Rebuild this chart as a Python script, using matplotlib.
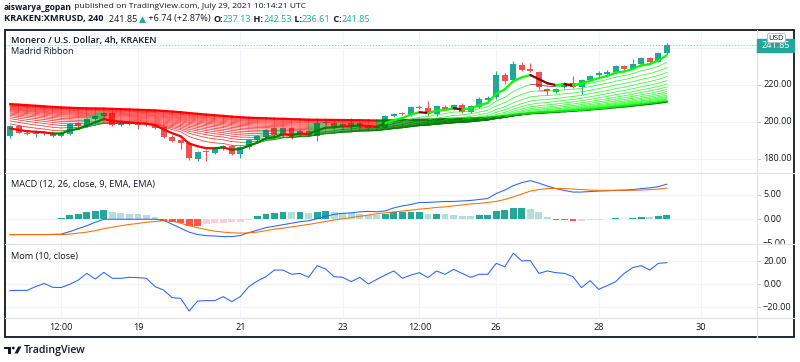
import numpy as np
import pandas as pd
import matplotlib
matplotlib.use('Agg')
import matplotlib.pyplot as plt
import matplotlib.dates as mdates
from matplotlib.collections import LineCollection
from matplotlib.patches import Rectangle, FancyBboxPatch, Circle, Polygon
from matplotlib.transforms import blended_transform_factory

plt.rcParams['font.family'] = ['Open Sans', 'DejaVu Sans']

# ---- data (KRAKEN:XMRUSD, 4h bars) ----
bar_times = pd.date_range('2021-07-16 12:00', periods=78, freq='4h')

opens = [192.4, 197.8, 194.2, 193.6, 194.0, 193.8, 192.6, 193.5, 199.4, 197.8,
         201.5, 203.0, 204.7, 198.6, 199.4, 199.0, 198.6, 198.3, 197.2, 192.0,
         190.2, 188.6, 180.0, 184.0, 183.5, 185.8, 187.0, 182.7, 186.3, 190.3,
         192.0, 196.6, 193.0, 196.6, 193.0, 195.3, 192.4, 199.3, 199.6, 197.5,
         199.5, 197.5, 198.4, 196.6, 196.6, 203.4, 204.6, 204.0, 208.0, 207.4,
         204.1, 208.3, 207.2, 209.2, 205.6, 208.3, 212.0, 213.3, 225.6, 222.8,
         230.7, 228.5, 226.8, 217.8, 216.2, 218.7, 221.3, 219.0, 222.8, 225.4,
         225.9, 226.8, 230.3, 228.5, 231.4, 234.5, 232.7, 237.13]
highs = [198.5, 198.5, 195.5, 195.8, 195.0, 194.5, 194.5, 199.5, 200.0, 202.0,
         204.0, 205.5, 205.5, 200.3, 200.0, 199.8, 199.2, 198.8, 197.8, 192.8,
         190.8, 189.8, 184.5, 184.8, 186.2, 187.5, 187.6, 186.8, 190.8, 192.8,
         196.2, 197.2, 197.0, 197.3, 195.8, 195.8, 200.5, 201.5, 200.3, 199.5,
         202.0, 200.0, 199.0, 197.5, 204.0, 204.8, 205.3, 208.5, 209.0, 211.6,
         209.0, 209.0, 209.8, 210.0, 209.2, 213.5, 213.8, 227.5, 226.5, 233.0,
         232.6, 232.0, 227.8, 218.5, 218.6, 221.8, 225.0, 223.2, 225.5, 227.5,
         228.0, 230.8, 231.0, 234.0, 235.0, 235.2, 237.6, 242.53]
lows = [191.5, 193.8, 193.0, 192.0, 192.8, 192.0, 191.8, 193.0, 197.0, 197.2,
        201.0, 202.5, 198.0, 197.8, 198.2, 196.0, 197.6, 196.0, 191.2, 189.0,
        185.5, 179.5, 179.0, 178.8, 182.8, 185.0, 182.0, 180.5, 185.6, 189.8,
        191.6, 192.5, 192.2, 191.0, 192.5, 192.2, 189.7, 198.5, 197.0, 197.0,
        197.0, 196.8, 196.0, 195.8, 196.0, 202.8, 203.8, 203.5, 207.0, 203.5,
        203.2, 206.8, 206.6, 205.0, 205.0, 207.8, 211.5, 212.5, 220.5, 222.0,
        227.5, 227.0, 218.0, 214.5, 215.5, 218.2, 218.2, 215.0, 222.2, 224.0,
        224.5, 226.2, 227.0, 228.0, 230.8, 232.0, 232.2, 236.61]
closes = [197.8, 194.2, 193.6, 194.0, 193.8, 192.6, 193.8, 198.9, 197.8, 201.5,
          203.5, 205.0, 198.6, 199.4, 199.0, 198.6, 198.3, 196.6, 191.7, 189.8,
          188.9, 180.4, 184.0, 183.7, 185.8, 187.0, 182.7, 186.3, 190.3, 192.4,
          195.7, 193.0, 196.6, 192.0, 195.3, 193.0, 199.3, 199.8, 197.5, 198.9,
          197.5, 199.5, 196.6, 197.0, 203.2, 204.3, 204.4, 208.0, 207.6, 204.1,
          208.6, 207.2, 209.2, 205.6, 208.6, 212.3, 212.9, 225.6, 222.0, 231.1,
          228.3, 227.8, 218.7, 216.5, 218.0, 221.3, 219.0, 222.8, 225.0, 226.6,
          227.2, 230.3, 228.5, 231.4, 234.5, 232.7, 237.13, 241.85]

# Madrid Ribbon: EMA lengths and the value of each EMA at the first visible bar
ribbon_lengths = [5, 10, 15, 20, 25, 30, 35, 40, 45, 50,
                  55, 60, 65, 70, 75, 80, 85, 90, 95, 100]
ribbon_start = [196.5, 199.0, 200.6, 201.8, 202.8, 203.6, 204.3, 204.9, 205.5, 206.0,
                206.5, 206.9, 207.3, 207.7, 208.1, 208.5, 208.8, 209.1, 209.4, 209.7]

macd_line = [-3.1, -3.1, -3.1, -3.1, -3.1, -3.05, -3.0, -2.5, -1.9, -1.3,
             -0.6, 0.0, 0.0, 0.0, 0.0, 0.0, 0.0, 0.0, -0.2, -1.0,
             -1.8, -2.6, -3.1, -3.3, -3.4, -3.5, -3.5, -3.3, -2.7, -2.2,
             -1.7, -1.4, -1.1, -0.8, -0.5, -0.3, 0.1, 0.6, 1.0, 1.2,
             1.3, 1.5, 1.6, 1.5, 1.7, 2.3, 2.7, 3.0, 3.4, 3.4,
             3.5, 3.6, 3.6, 3.7, 3.8, 4.0, 4.2, 5.2, 5.9, 6.8,
             7.4, 7.8, 7.3, 6.7, 6.2, 5.8, 5.5, 5.5, 5.6, 5.7,
             5.75, 5.85, 5.9, 6.0, 6.2, 6.35, 6.6, 7.1]
signal_line = [-3.1, -3.1, -3.1, -3.1, -3.1, -3.1, -3.1, -3.0, -2.8, -2.6,
               -2.3, -1.9, -1.6, -1.3, -1.05, -0.85, -0.6, -0.45, -0.3, -0.4,
               -0.8, -1.3, -1.7, -2.1, -2.4, -2.6, -2.75, -2.8, -2.75, -2.6,
               -2.3, -2.0, -1.8, -1.55, -1.3, -1.05, -0.75, -0.45, -0.15, 0.1,
               0.35, 0.6, 0.85, 1.1, 1.3, 1.5, 1.65, 1.85, 2.05, 2.2,
               2.4, 2.5, 2.7, 2.9, 3.1, 3.2, 3.4, 3.6, 4.0, 4.5,
               5.1, 5.7, 6.0, 6.2, 6.25, 6.2, 6.1, 6.0, 5.9, 5.85,
               5.85, 5.85, 5.85, 5.85, 5.9, 6.0, 6.1, 6.3]
macd_hist = [0.12, 0.1, 0.08, 0.1, 0.12, 0.14, 0.16, 0.8, 1.0, 1.4,
             1.6, 1.9, 1.4, 1.2, 1.1, 1.0, 0.8, 0.45, -0.3, -0.5,
             -0.7, -1.3, -1.35, -1.0, -0.85, -0.7, -0.65, -0.5, -0.2, 0.6,
             1.1, 1.3, 1.55, 1.4, 1.45, 1.3, 1.55, 1.6, 1.4, 1.35,
             1.2, 1.1, 0.9, 0.8, 1.1, 1.4, 1.44, 1.46, 1.48, 1.1,
             1.12, 1.1, 0.92, 0.72, 0.59, 0.78, 0.8, 1.57, 1.9, 2.29,
             2.3, 2.1, 1.37, 0.46, -0.07, -0.2, -0.39, -0.26, -0.2, -0.07,
             -0.02, 0.2, 0.13, 0.26, 0.46, 0.4, 0.6, 0.92]
momentum = [-5.5, -5.3, -5.3, -2.0, 0.8, -2.6, -2.8, 0.0, 3.7, 9.5,
            4.6, 10.4, 5.2, 5.2, 6.1, 5.8, 5.2, -2.0, -5.0, -11.6,
            -12.2, -23.2, -14.5, -14.2, -14.2, -10.7, -15.1, -10.7, -2.0, 2.9,
            6.6, 12.4, 12.4, 8.7, 9.5, 6.1, 16.2, 13.3, 6.6, 6.1,
            2.3, 6.1, 0.3, 4.3, 8.1, 11.6, 5.2, 8.1, 10.1, 5.8,
            11.6, 8.7, 13.0, 9.5, 6.1, 8.7, 8.7, 18.2, 15.3, 27.0,
            20.3, 20.6, 9.5, 11.6, 10.1, 9.5, 6.6, -2.9, 3.2, -4.4,
            -1.2, 2.3, 9.5, 14.5, 16.2, 12.4, 18.2, 18.8]

price_ticks = [180, 200, 220]
price_labels = ['180.00', '200.00', '220.00']
macd_ticks = [-5, 0, 5]
macd_labels = ['\u22125.00', '0.00', '5.00']
mom_ticks = [-20, 0, 20]
mom_labels = ['\u221220.00', '0.00', '20.00']
time_ticks = ['2021-07-17 12:00', '2021-07-19 00:00', '2021-07-21 00:00', '2021-07-23 00:00',
              '2021-07-24 12:00', '2021-07-26 00:00', '2021-07-28 00:00', '2021-07-30 00:00']
time_labels = ['12:00', '19', '21', '23', '12:00', '26', '28', '30']

# ---- colours ----
TXT = '#131722'
UP = '#26A69A'
DOWN = '#EF5350'
GRID = '#F0F3FA'
SEP = '#E0E3EB'
FS = 6.6

W, H = 800, 362
fig = plt.figure(figsize=(8, 3.62), dpi=100)


def rect(x0, y0, x1, y1):
    return [x0 / W, 1 - y1 / H, (x1 - x0) / W, (y1 - y0) / H]


PL, PR, SR = 5, 757, 794
ax_p = fig.add_axes(rect(PL, 30, PR, 173))
ax_m = fig.add_axes(rect(PL, 173, PR, 244))
ax_o = fig.add_axes(rect(PL, 244, PR, 318))

x = mdates.date2num(bar_times.to_pydatetime())
day0 = mdates.date2num(pd.Timestamp('2021-07-17').to_pydatetime())
tick_x = mdates.date2num(pd.to_datetime(time_ticks, format='%Y-%m-%d %H:%M').to_pydatetime())

for ax in (ax_p, ax_m, ax_o):
    ax.set_xlim(day0 - 0.598, day0 + 14.095)
    ax.set_xticks(tick_x)
    ax.tick_params(length=0, labelbottom=False, labelleft=False)
    for s in ax.spines.values():
        s.set_visible(False)
    ax.grid(True, color=GRID, lw=0.8)
    ax.set_axisbelow(True)

# ---- price panel ----
ax_p.set_ylim(172.43, 249.73)
ax_p.set_yticks(price_ticks + [240])
o = np.array(opens)
c = np.array(closes)
ccol = np.where(c >= o, UP, DOWN)
ax_p.axhline(closes[-1], color=UP, lw=0.6, ls=(0, (1.5, 2.0)), alpha=0.6, zorder=1)
ax_p.vlines(x, lows, highs, colors=ccol, lw=0.8, zorder=2)
ax_p.bar(x, np.maximum(np.abs(c - o), 0.45), bottom=np.minimum(o, c), width=0.7 / 6,
         color=ccol, linewidth=0, zorder=2)

# Madrid Ribbon
lengths = np.array(ribbon_lengths)
alpha = 2.0 / (lengths + 1)
ema = np.zeros((len(lengths), len(closes)))
ema[:, 0] = ribbon_start
for i in range(1, len(closes)):
    ema[:, i] = ema[:, i - 1] + alpha * (closes[i] - ema[:, i - 1])


def madrid_color(ma, ref, i):
    rising = ma[i] >= ma[i - 1]
    above = ma[i] > ref[i]
    if above:
        return '#00FF00' if rising else '#800000'
    return '#008000' if rising else '#FF0000'


for j in reversed(range(len(lengths))):
    segs = [[(x[i - 1], ema[j, i - 1]), (x[i], ema[j, i])] for i in range(1, len(x))]
    cols = [madrid_color(ema[j], ema[-1], i) for i in range(1, len(x))]
    thick = j in (0, len(lengths) - 1)
    ax_p.add_collection(LineCollection(segs, colors=cols, linewidths=1.6 if thick else 0.55,
                                       alpha=1.0 if thick else 0.8, zorder=3,
                                       capstyle='round'))

# ---- MACD panel ----
ax_m.set_ylim(-4.57, 9.35)
ax_m.set_yticks(macd_ticks)
hcol = []
for i, h in enumerate(macd_hist):
    prev = macd_hist[i - 1] if i > 0 else h
    if h >= 0:
        hcol.append('#26A69A' if h > prev else '#B2DFDB')
    else:
        hcol.append('#FFCDD2' if h > prev else '#FF5252')
ax_m.bar(x, macd_hist, width=0.8 / 6, color=hcol, linewidth=0, zorder=2)
ax_m.plot(x, macd_line, color='#2962FF', lw=0.75, zorder=3)
ax_m.plot(x, signal_line, color='#FF6D00', lw=0.75, zorder=3)

# ---- Momentum panel ----
ax_o.set_ylim(-29.3, 35.04)
ax_o.set_yticks(mom_ticks)
ax_o.plot(x, momentum, color='#2962FF', lw=0.75, zorder=3)


# ---- right price scales ----
def scale(y0, y1, ylim, ticks, labels):
    sc = fig.add_axes(rect(PR, y0, SR, y1))
    sc.set_xlim(0, SR - PR)
    sc.set_ylim(*ylim)
    sc.axis('off')
    for v, lab in zip(ticks, labels):
        sc.plot([0, 3], [v, v], color='#B2B5BE', lw=0.6)
        sc.text(6, v, lab, fontsize=FS, color=TXT, va='center', ha='left', clip_on=True)


scale(30, 173, ax_p.get_ylim(), price_ticks, price_labels)
scale(173, 244, ax_m.get_ylim(), macd_ticks, macd_labels)
scale(244, 318, ax_o.get_ylim(), mom_ticks, mom_labels)

# ---- overlay in pixel coordinates ----
ov = fig.add_axes([0, 0, 1, 1])
ov.set_xlim(0, W)
ov.set_ylim(H, 0)
ov.axis('off')

for yy in (173, 244, 318):
    ov.plot([PL, SR], [yy, yy], color=SEP, lw=0.9)
ov.plot([PR, PR], [30, 337], color=SEP, lw=0.9)
ov.add_patch(Rectangle((4.5, 29.5), 789.5, 307.5, fill=False, ec=TXT, lw=1.3))

# time axis labels
tt = blended_transform_factory(ax_o.transData, ov.transData)
for tx, lab in zip(tick_x, time_labels):
    ov.text(tx, 328, lab, transform=tt, fontsize=FS, color=TXT, ha='center', va='center')

renderer = fig.canvas.get_renderer()


def text_run(xp, yp, parts, size):
    for txt, col, wt in parts:
        t = ov.text(xp, yp, txt, color=col, fontsize=size, fontweight=wt,
                    ha='left', va='center')
        bb = t.get_window_extent(renderer=renderer)
        xp = ov.transData.inverted().transform((bb.x1, bb.y0))[0]


text_run(4, 7, [('aiswarya_gopan', TXT, 'bold'),
                (' published on TradingView.com, July 29, 2021 10:14:21 UTC', TXT, 'normal')], 6.1)
text_run(4, 19, [('KRAKEN:XMRUSD, 240', TXT, 'bold'),
                 ('  241.85 ', TXT, 'normal'),
                 ('\u25B2', UP, 'normal'),
                 (' +6.74 (+2.87%) ', TXT, 'normal'),
                 ('O:', TXT, 'bold'), ('237.13', UP, 'normal'),
                 (' H:', TXT, 'bold'), ('242.53', UP, 'normal'),
                 (' L:', TXT, 'bold'), ('236.61', UP, 'normal'),
                 (' C:', TXT, 'bold'), ('241.85', UP, 'normal')], 6.6)

ov.text(11, 40, 'Monero / U.S. Dollar, 4h, KRAKEN', fontsize=FS, color=TXT,
        fontweight='semibold', va='center')
ov.text(11, 52, 'Madrid Ribbon', fontsize=FS, color=TXT, va='center')
ov.text(11, 185, 'MACD (12, 26, close, 9, EMA, EMA)', fontsize=FS, color=TXT, va='center')
ov.text(11, 257, 'Mom (10, close)', fontsize=FS, color=TXT, va='center')

# last price tag
ov.add_patch(Rectangle((PR, 38.5), SR - PR, 13, color=UP, zorder=5))
ov.text(775.5, 45.5, '241.85', fontsize=FS, color='white', ha='center', va='center', zorder=6)
ov.add_patch(FancyBboxPatch((767.5, 33.5), 18, 9, boxstyle='round,pad=0,rounding_size=2',
                            fc='white', ec='#B2B5BE', lw=0.6, zorder=7))
ov.text(776.5, 38.2, 'USD', fontsize=5.6, color=TXT, ha='center', va='center', zorder=8)

# TradingView logo + name
ov.add_patch(Rectangle((4, 346.5), 7, 2.6, color=TXT, lw=0))
ov.add_patch(Rectangle((7.6, 346.5), 3.4, 7, color=TXT, lw=0))
ov.add_patch(Circle((13.3, 348.0), 1.4, color=TXT, lw=0))
ov.add_patch(Polygon([(14.5, 353.5), (17.8, 353.5), (21.5, 346.5), (18.2, 346.5)],
                     closed=True, color=TXT, lw=0))
ov.text(24, 350, 'TradingView', fontsize=7.6, color=TXT, fontweight='semibold', va='center')

fig.savefig('out.png', dpi=100)
